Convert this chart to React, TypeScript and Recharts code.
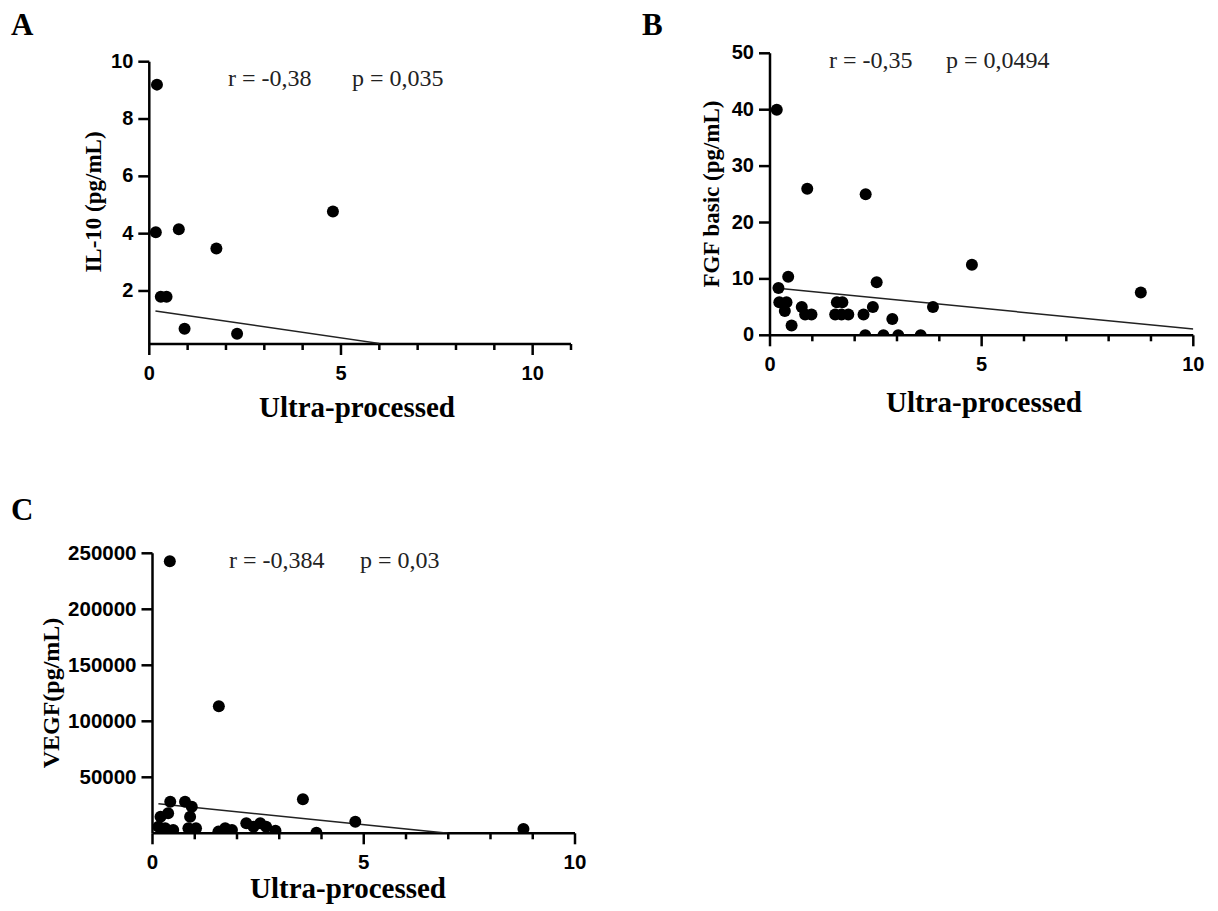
import { ScatterChart, Scatter, XAxis, YAxis } from "recharts";

// Panel A: IL-10 vs ultra-processed
const ultraA = [0.2, 0.17, 0.77, 0.3, 0.45, 0.92, 1.75, 2.29, 4.79];
const il10 = [9.2, 4.05, 4.15, 1.8, 1.8, 0.68, 3.48, 0.51, 4.77];
const fitAx = [0.16, 6.0];
const fitAy = [1.3, 0.17];

// Panel B: FGF basic vs ultra-processed
const ultraB = [
  0.16, 0.88, 2.26, 4.77, 8.76, 0.43, 0.2, 2.52, 0.22, 0.39, 0.35, 0.51, 0.75, 0.83,
  0.98, 1.58, 1.71, 1.54, 1.69, 1.85, 2.21, 2.43, 2.89, 2.25, 2.68, 3.03, 3.56, 3.85,
];
const fgf = [
  40, 26, 25, 12.5, 7.6, 10.4, 8.4, 9.4, 5.85, 5.85, 4.3, 1.75, 5.0, 3.7,
  3.7, 5.85, 5.85, 3.7, 3.7, 3.7, 3.7, 5.0, 2.9, 0, 0, 0, 0, 5.0,
];
const fitBx = [0.31, 10];
const fitBy = [8.25, 1.1];

// Panel C: VEGF vs ultra-processed
const ultraC = [
  0.41, 1.57, 8.78, 0.42, 0.77, 0.93, 0.89, 0.37, 0.19, 0.14, 0.3, 0.49, 0.85, 1.03,
  1.56, 1.72, 1.88, 2.22, 2.39, 2.55, 2.69, 2.91, 3.56, 3.88, 4.8,
];
const vegf = [
  243000, 113400, 3800, 28200, 28200, 23700, 14800, 17900, 14800, 5900, 4500, 3000, 4500, 4500,
  1500, 4500, 3000, 8900, 5900, 8900, 5900, 2300, 30400, 500, 10400,
];
const fitCx = [0.14, 7.0];
const fitCy = [26300, 0];

const ticksX11 = [0, 1, 2, 3, 4, 5, 6, 7, 8, 9, 10, 11];
const ticksX10 = [0, 1, 2, 3, 4, 5, 6, 7, 8, 9, 10];
const ticksYA = [2, 4, 6, 8, 10];
const ticksYB = [0, 10, 20, 30, 40, 50];
const ticksYC = [50000, 100000, 150000, 200000, 250000];

const serif = '"Liberation Serif", "Times New Roman", serif';
const sans = '"Liberation Sans", Arial, sans-serif';

const toPts = (xs: number[], ys: number[]) => xs.map((x, i) => ({ x, y: ys[i] }));

const Dot = (props: any) => {
  if (props.cx == null || props.cy == null) return <g />;
  return <circle cx={props.cx} cy={props.cy} r={6} fill="#000" />;
};
const NoDot = () => <g />;

const makeXTick = (fontSize: number) => (props: any) => {
  const { x, y, payload } = props;
  const v = payload.value;
  const major = v % 5 === 0;
  return (
    <g>
      <line x1={x} y1={y} x2={x} y2={y + (major ? 11 : 6)} stroke="#000" strokeWidth={2.5} />
      {major && (
        <text x={x} y={y + 36} textAnchor="middle" fontFamily={sans} fontWeight="bold" fontSize={fontSize} fill="#000">
          {v}
        </text>
      )}
    </g>
  );
};

const makeYTick = (fontSize: number) => (props: any) => {
  const { x, y, payload } = props;
  return (
    <g>
      <line x1={x - 11} y1={y} x2={x} y2={y} stroke="#000" strokeWidth={2.5} />
      <text x={x - 16} y={y - 1} textAnchor="end" dominantBaseline="central" fontFamily={sans} fontWeight="bold" fontSize={fontSize} fill="#000">
        {payload.value}
      </text>
    </g>
  );
};

interface PanelProps {
  left: number;
  top: number;
  width: number;
  height: number;
  margin: { top: number; right: number; bottom: number; left: number };
  yWidth: number;
  xDomain: [number, number];
  xTicks: number[];
  yDomain: [number, number];
  yTicks: number[];
  tickFont: number;
  points: { x: number; y: number }[];
  fit: { x: number; y: number }[];
  letter: string;
  letterPos: [number, number];
  rText: string;
  pText: string;
  rPos: [number, number];
  pPos: [number, number];
  yLabel: string;
  yLabelPos: [number, number];
  yLabelSize: number;
  xLabelPos: [number, number];
}

function Panel(p: PanelProps) {
  return (
    <div style={{ position: "absolute", left: p.left, top: p.top, width: p.width, height: p.height }}>
      <ScatterChart width={p.width} height={p.height} margin={p.margin}>
        <XAxis
          type="number"
          dataKey="x"
          domain={p.xDomain}
          ticks={p.xTicks}
          interval={0}
          height={40}
          allowDataOverflow
          axisLine={{ stroke: "#000", strokeWidth: 2.5 }}
          tickLine={false}
          tickSize={0}
          tickMargin={0}
          tick={makeXTick(p.tickFont)}
        />
        <YAxis
          type="number"
          dataKey="y"
          domain={p.yDomain}
          ticks={p.yTicks}
          interval={0}
          width={p.yWidth}
          allowDataOverflow
          axisLine={{ stroke: "#000", strokeWidth: 2.5 }}
          tickLine={false}
          tickSize={0}
          tickMargin={0}
          tick={makeYTick(p.tickFont)}
        />
        <Scatter
          data={p.fit}
          shape={NoDot}
          line={{ stroke: "#222", strokeWidth: 1.5 }}
          isAnimationActive={false}
        />
        <Scatter data={p.points} shape={Dot} isAnimationActive={false} />
      </ScatterChart>
      <svg
        width={p.width}
        height={p.height}
        style={{ position: "absolute", left: 0, top: 0, pointerEvents: "none" }}
      >
        <text x={p.letterPos[0]} y={p.letterPos[1]} fontFamily={serif} fontWeight="bold" fontSize={31} fill="#000">
          {p.letter}
        </text>
        <text x={p.rPos[0]} y={p.rPos[1]} fontFamily={serif} fontSize={24} fill="#222">
          {p.rText}
        </text>
        <text x={p.pPos[0]} y={p.pPos[1]} fontFamily={serif} fontSize={24} fill="#222">
          {p.pText}
        </text>
        <text
          transform={`translate(${p.yLabelPos[0]},${p.yLabelPos[1]}) rotate(-90)`}
          textAnchor="middle"
          dominantBaseline="central"
          fontFamily={serif}
          fontWeight="bold"
          fontSize={p.yLabelSize}
          fill="#000"
        >
          {p.yLabel}
        </text>
        <text x={p.xLabelPos[0]} y={p.xLabelPos[1]} textAnchor="middle" fontFamily={serif} fontWeight="bold" fontSize={29} fill="#000">
          Ultra-processed
        </text>
      </svg>
    </div>
  );
}

export default function App() {
  return (
    <div style={{ position: "absolute", left: 0, top: 0, width: 1218, height: 911, background: "#fff" }}>
      <Panel
        left={0}
        top={0}
        width={600}
        height={440}
        margin={{ top: 61.7, right: 29, bottom: 56, left: 0 }}
        yWidth={149.3}
        xDomain={[0, 11]}
        xTicks={ticksX11}
        yDomain={[0.15, 10]}
        yTicks={ticksYA}
        tickFont={20}
        points={toPts(ultraA, il10)}
        fit={toPts(fitAx, fitAy)}
        letter="A"
        letterPos={[11, 35]}
        rText="r = -0,38"
        pText="p = 0,035"
        rPos={[228, 86]}
        pPos={[352, 86]}
        yLabel="IL-10 (pg/mL)"
        yLabelPos={[93, 202]}
        yLabelSize={23}
        xLabelPos={[357, 417]}
      />
      <Panel
        left={600}
        top={0}
        width={618}
        height={440}
        margin={{ top: 53.3, right: 24.7, bottom: 64.7, left: 0 }}
        yWidth={170}
        xDomain={[0, 10]}
        xTicks={ticksX10}
        yDomain={[0, 50]}
        yTicks={ticksYB}
        tickFont={20}
        points={toPts(ultraB, fgf)}
        fit={toPts(fitBx, fitBy)}
        letter="B"
        letterPos={[42, 35]}
        rText="r = -0,35"
        pText="p = 0,0494"
        rPos={[229, 68]}
        pPos={[346, 68]}
        yLabel="FGF basic (pg/mL)"
        yLabelPos={[111.6, 194]}
        yLabelSize={23}
        xLabelPos={[384, 412]}
      />
      <Panel
        left={0}
        top={480}
        width={600}
        height={431}
        margin={{ top: 73.3, right: 25, bottom: 37.7, left: 0 }}
        yWidth={152.5}
        xDomain={[0, 10]}
        xTicks={ticksX10}
        yDomain={[0, 250000]}
        yTicks={ticksYC}
        tickFont={20.5}
        points={toPts(ultraC, vegf)}
        fit={toPts(fitCx, fitCy)}
        letter="C"
        letterPos={[11, 40]}
        rText="r = -0,384"
        pText="p = 0,03"
        rPos={[229, 88]}
        pPos={[360, 88]}
        yLabel="VEGF(pg/mL)"
        yLabelPos={[51, 213]}
        yLabelSize={24}
        xLabelPos={[348, 418]}
      />
    </div>
  );
}
